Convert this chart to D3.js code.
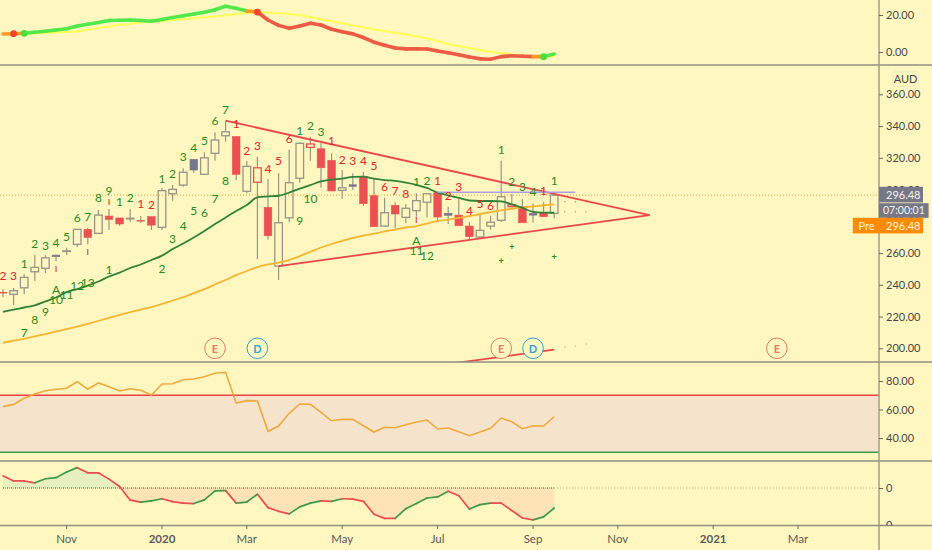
<!DOCTYPE html>
<meta charset="utf-8">
<style>
  html, body { margin: 0; padding: 0; background: #fff7bf; overflow: hidden; }
  text { font-family: Lato, "Open Sans", sans-serif; }
</style>

<!-- Load d3.js -->
<script src="https://d3js.org/d3.v7.min.js"></script>

<!-- Create a div where the graph will take place -->
<div id="my_dataviz"></div>

<script>

// weekly candles, one entry per bar
const opens = [235.3,234,238.1,248.2,250.4,258.7,261.1,265.5,274.9,272.4,283.3,282.1,281.6,280.5,282.9,276.2,297.4,302.8,319,309.6,322.8,333.9,333.3,298.9,304.6,288.8,251.8,282.2,307.1,326.6,325.7,318.4,299.5,303,308.1,296.1,277,290.1,282.5,286.7,292,298,285,283.9,277,270.1,277,280.6,289.2,289.2,285,285.4,285];
const highs = [237.3,238,246.8,258.7,258.7,258.7,263.4,275.1,275.9,287.1,287.7,282.1,287.7,283.3,282.9,301,302.8,313.4,319.2,323.5,336.1,343.4,333.7,318,320.7,306.6,310.2,325.3,329.9,333.3,329.1,322.8,312.3,310.2,311.2,307.3,294.8,292,290.7,297.6,297.6,298,289.2,294,279.4,283.9,283.5,318.2,297.2,294,291.3,292,297.6];
const lows = [232.3,227.2,234,242.4,247.4,255,258.7,263.8,265.5,272.4,274.5,277.2,279.7,278.9,274.5,274.5,293,301.8,310.6,309.6,318.2,330.1,306,297.6,256.2,268.6,243,279.4,304.3,318.2,301.1,299.1,294,299.7,289.8,276.6,276.6,275.6,278.7,282.9,282.5,279.4,278.3,277.2,268.2,269.3,274.9,279.7,288.8,279.1,279.1,282.5,281.9];
const closes = [234.8,236.3,244.7,251,257,257.7,261.4,274.9,269.9,283.9,281.2,278.3,281.9,280.2,277.6,299.3,300.1,310.9,312.3,320,331.2,336.4,309.6,314.6,313.7,270.9,279.1,304.3,329.1,328.7,313.7,299.1,301.1,302,291.1,276.6,285.4,284.6,288.2,293,297.4,282.7,283.8,277.2,270.3,274.3,279.4,295.5,290.4,279.1,283.9,282.9,296.48];

// moving averages on the price pane
const maFast = [223,224.4,225.7,227.1,229.5,232,235.4,237.3,239.5,242.1,245.2,247.7,250.6,252.8,255.6,258.4,262.5,266,269.8,273.9,278.3,282.4,286.5,290.2,295.1,295.7,296.1,298.1,300.6,302.8,305.1,306.2,306.9,308,308.1,306.9,306,305.4,304.4,303,301,298,296.4,294.7,293.1,292.8,292.8,292.5,290.6,288.4,286,285.5,285.4];
const maSlow = [203.5,204.8,206,207.5,209,210.6,212.1,213.7,215.4,217.2,219.1,221.1,222.8,224.4,226,227.9,230.1,232.1,234.8,237.3,240.2,243,246.1,248.7,251.2,252.8,254,255.6,258.1,260.8,263.5,265.7,267.6,269.5,271,272.2,273.6,274.8,276.1,277,278.6,280.2,281.1,282.1,283.3,284.6,285.8,286.9,287.9,288.8,289.4,290.1,290.7];

// top pane
const wave = [9.7,9.9,10.1,10.7,11.2,11.9,12.6,14,15,15.9,17,17.2,17.3,17,16.6,17.6,18.6,19.6,20.5,21.5,22.8,24.7,23.6,22.2,21.6,17.3,14.4,12.8,14,15.5,14.6,12.3,10.9,9.8,7.8,5.3,3.6,2.2,1.7,1.7,1.6,0.5,-0.4,-1.5,-2.7,-3.7,-3.9,-2.5,-2,-2.3,-2.5,-2.5,-1.1];
const waveSignal = [9.5,10,9.9,10.1,10.3,10.6,10.8,11.1,12.1,13,13.8,14.6,15.1,15.9,16.3,16.8,17.3,17.7,18.3,18.8,19.2,19.8,20.5,21,21.7,21.2,21,20.6,19.9,18.9,17.7,16.6,15.5,14.4,13.3,12.2,11.4,10.4,9.5,8.5,7.3,6,4.2,3.2,2.2,1.1,0.1,-0.6,-1.4,-1.8,-2.3,-2.6,-2.4];

// rsi pane
const rsi = [62,63.6,67.9,70.9,73.2,74.2,74.9,79.5,74.2,78.6,76,73,74.6,73.5,70.2,77.9,78.1,80.9,81.4,83,85.4,86.1,64.6,66.2,66,44.7,48.4,57.3,63.9,63.6,58,52.1,53.1,53.1,48.6,44.2,47.5,47.2,49.3,51.2,52.6,46.3,47,44.4,41.6,44.2,46.8,54,51.4,46.5,48.6,48.4,54.9];

// bottom oscillator pane
const osc = [3.3,1.9,1.9,1.4,2.5,2.8,4.3,5.5,4.1,4.1,2.4,0.4,-3.3,-3.8,-3.5,-2.9,-3.7,-4.1,-4.2,-3.2,-0.8,-0.7,-4.1,-3.8,-1.7,-5.3,-6.3,-7,-5.1,-4.1,-3.5,-3.6,-2.9,-3,-3.6,-7.1,-8.2,-8.2,-5.6,-4.2,-2.7,-2.4,-0.9,-2.1,-5.7,-4.5,-4.1,-4.1,-6.1,-8.1,-8.6,-7.8,-5.4];

// count labels above and below the candles
const greenLabels = ["7","8","9","A","10","11","12","13","1","2","3","4","5","6","7","8","9","10","1","2","3","4","5","6","7","8","9","1","2","1","2","3","4","5","6","7","1","2","3","1","2","1","2","3","4","1","A","11","12"];
const greenBars = [2,3,4,5,5,6,7,8,10,15,16,17,18,19,20,21,28,29,2,3,4,5,6,7,8,9,10,11,12,15,16,17,18,19,20,21,28,29,30,39,40,47,48,49,50,52,39,39,40];
const greenPrices = [210.1,218,223,237.1,230.8,234.2,239.7,241.6,249.7,250.1,269.3,277.6,286.7,285.4,294.5,305.4,280.8,294.5,253.5,266.1,265,266.5,270.7,282.5,282.9,294.7,299.3,292.6,295.1,307.1,310.2,321.1,326.8,331,343.2,350.3,336.9,340.2,336.4,305.2,305.4,325.5,305.2,301.8,298.6,305.4,267.6,261.3,258.7];
const redLabels = ["2","3","1","2","1","2","3","4","5","6","1","2","3","4","5","6","7","8","1","2","3","4","5","6","1"];
const redBars = [0,1,13,14,22,23,24,25,26,27,31,32,33,34,35,36,37,38,41,42,43,44,45,46,51];
const redPrices = [246.1,246.1,291.3,290.7,341.7,324.9,328,313.4,318,332.3,330.6,319.2,318,318.2,315,302.2,299.7,297.8,305.4,296.1,302.2,286.7,291.3,290.2,299.7];
const markBars = [5,8,10,39];
const markPrices = [250.1,260.8,292.1,280.8];
const plusBars = [47,48,52];
const plusPrices = [255.4,264,257.9];

// drawn lines: [bar, price] pairs
const triangleTop = [[21,343.4],[61,283.9]];
const triangleBottom = [[26,251.8],[61,283.9]];
const lowerChannel = [[42,190.1],[52,199.2]];
const resistance = [[41,298.3],[54,298.3]];
const projectionDots = [[53,292.3],[54,292.3],[53,286],[54,286],[55,286]];
const channelDots = [[53,200.8],[54,201.4],[55,202.7]];

// earnings and dividend badges
const eventLabels = ["E","D","E","D","E"];
const eventBars = [20,24,47,50,73];

// axes
const timeTickBars = [6,15,23,32,41,50,58,67,75];
const timeTickLabels = ["Nov","2020","Mar","May","Jul","Sep","Nov","2021","Mar"];
const priceTicks = [360,340,320,300,280,260,240,220,200];
const topTicks = [20,0];
const rsiTicks = [80,60,40];
const oscTicks = [0,-10];
const lastPrice = 296.48;

const width = 932, height = 550, axisX = 879;
const bg = "#fff7bf", red = "#ec5050", grey = "#969689", dark = "#77778c";

const svg = d3.select("#my_dataviz")
  .append("svg")
  .attr("width", width)
  .attr("height", height)
  .style("display", "block");

// scales, bar number on x and one y scale per pane
const x = d3.scaleLinear().domain([0, 82]).range([3, 872.2]);
const topY = d3.scaleLinear().domain([0, 20]).range([52, 15]);
const priceY = d3.scaleLinear().domain([200, 360]).range([348.3, 94.3]);
const rsiY = d3.scaleLinear().domain([40, 80]).range([438, 381]);
const oscY = d3.scaleLinear().domain([-10, 0]).range([525, 488]);

// each pane gets its own clip
const defs = svg.append("defs");
[["clipTop", 0, 65], ["clipPrice", 65, 362], ["clipRsi", 362, 461], ["clipOsc", 461, 525],
 ["clipOscAxis", 461, 525.5]].forEach(d => {
  defs.append("clipPath").attr("id", d[0]).append("rect")
    .attr("x", 0).attr("y", d[1]).attr("width", width).attr("height", d[2] - d[1]);
});
defs.append("clipPath").attr("id", "oscAbove").append("rect")
  .attr("x", 0).attr("y", 461).attr("width", width).attr("height", oscY(0) - 461);
defs.append("clipPath").attr("id", "oscBelow").append("rect")
  .attr("x", 0).attr("y", oscY(0)).attr("width", width).attr("height", 525 - oscY(0));

const bars = d3.range(closes.length);

// ---- top pane ----
const topPane = svg.append("g").attr("clip-path", "url(#clipTop)");

topPane.append("path")
  .attr("d", d3.line().x(i => x(i)).y(i => topY(waveSignal[i])).curve(d3.curveMonotoneX)(bars))
  .attr("fill", "none")
  .attr("stroke", "#ffff55")
  .attr("stroke-width", 2);

const isUp = i => wave[i] > waveSignal[i];

topPane.selectAll(".waveseg")
  .data(bars.slice(0, -1))
  .join("line")
  .attr("class", "waveseg")
  .attr("x1", i => x(i)).attr("y1", i => topY(wave[i]))
  .attr("x2", i => x(i + 1)).attr("y2", i => topY(wave[i + 1]))
  .attr("stroke-width", 3.6)
  .attr("stroke-linecap", "round")
  .attr("stroke", i => isUp(i) !== isUp(i + 1) ? "#ff9a20" : (isUp(i) ? "#52e84c" : "#ee5a45"));

topPane.selectAll(".wavecross")
  .data(bars.slice(1).filter(i => isUp(i) !== isUp(i - 1)))
  .join("circle")
  .attr("class", "wavecross")
  .attr("cx", i => x(i)).attr("cy", i => topY(wave[i]))
  .attr("r", 3.4)
  .attr("fill", i => isUp(i) ? "#44e03c" : "#f0442c");

// ---- price pane ----
const pricePane = svg.append("g").attr("clip-path", "url(#clipPrice)");

// last price line
pricePane.append("line")
  .attr("x1", 0).attr("x2", axisX)
  .attr("y1", priceY(lastPrice)).attr("y2", priceY(lastPrice))
  .attr("stroke", "#f5a23c")
  .attr("stroke-dasharray", "1 2");

// candles: filled when close is under open, red when close is under the previous close
const isFilled = i => closes[i] < opens[i];
const isDown = i => i === 0 || closes[i] < closes[i - 1];
const candleColor = i => isDown(i) ? red : (isFilled(i) ? dark : grey);
const bodyTop = i => priceY(Math.max(opens[i], closes[i]));
const bodyBottom = i => priceY(Math.min(opens[i], closes[i]));

const candles = pricePane.selectAll(".candle").data(bars).join("g").attr("class", "candle");

candles.append("line")
  .attr("x1", i => x(i)).attr("x2", i => x(i))
  .attr("y1", i => priceY(highs[i])).attr("y2", i => bodyTop(i))
  .attr("stroke", grey).attr("stroke-width", 1.2);
candles.append("line")
  .attr("x1", i => x(i)).attr("x2", i => x(i))
  .attr("y1", i => bodyBottom(i)).attr("y2", i => priceY(lows[i]))
  .attr("stroke", grey).attr("stroke-width", 1.2);
candles.append("rect")
  .attr("x", i => x(i) - 3.8)
  .attr("width", 7.6)
  .attr("y", i => bodyTop(i))
  .attr("height", i => Math.max(bodyBottom(i) - bodyTop(i), 0.6))
  .attr("fill", i => isFilled(i) ? candleColor(i) : "none")
  .attr("stroke", candleColor)
  .attr("stroke-width", i => isFilled(i) ? 0.6 : 1.3);

// moving averages
const priceLine = d3.line().x((d, i) => x(i)).y(d => priceY(d)).curve(d3.curveMonotoneX);
pricePane.append("path").attr("d", priceLine(maSlow))
  .attr("fill", "none").attr("stroke", "#f6b531").attr("stroke-width", 1.8);
pricePane.append("path").attr("d", priceLine(maFast))
  .attr("fill", "none").attr("stroke", "#2f8237").attr("stroke-width", 1.8);

// drawn lines
const drawnLine = d3.line().x(d => x(d[0])).y(d => priceY(d[1]));
[triangleTop, triangleBottom, lowerChannel].forEach(d => {
  pricePane.append("path").attr("d", drawnLine(d))
    .attr("fill", "none").attr("stroke", "#e8484c").attr("stroke-width", 1.8);
});
pricePane.append("path").attr("d", drawnLine(resistance))
  .attr("fill", "none").attr("stroke", "#a79fe0").attr("stroke-width", 1.5);

pricePane.selectAll(".projdot").data(projectionDots).join("circle")
  .attr("class", "projdot")
  .attr("cx", d => x(d[0])).attr("cy", d => priceY(d[1])).attr("r", 0.7).attr("fill", "#9a9a88");
pricePane.selectAll(".chandot").data(channelDots).join("circle")
  .attr("class", "chandot")
  .attr("cx", d => x(d[0])).attr("cy", d => priceY(d[1])).attr("r", 0.7).attr("fill", "#e09a88");

// count labels
pricePane.selectAll(".green").data(greenLabels).join("text")
  .attr("class", "green")
  .attr("x", (d, i) => x(greenBars[i])).attr("y", (d, i) => priceY(greenPrices[i]))
  .attr("text-anchor", "middle").attr("dominant-baseline", "central")
  .attr("font-size", 12).attr("fill", "#1f8a24")
  .text(d => d);
pricePane.selectAll(".red").data(redLabels).join("text")
  .attr("class", "red")
  .attr("x", (d, i) => x(redBars[i])).attr("y", (d, i) => priceY(redPrices[i]))
  .attr("text-anchor", "middle").attr("dominant-baseline", "central")
  .attr("font-size", 12).attr("fill", "#e3242b")
  .text(d => d);
pricePane.selectAll(".mark").data(markBars).join("text")
  .attr("class", "mark")
  .attr("x", d => x(d)).attr("y", (d, i) => priceY(markPrices[i]))
  .attr("text-anchor", "middle").attr("dominant-baseline", "central")
  .attr("font-size", 7).attr("font-weight", "bold").attr("fill", "#e3242b")
  .text("I");
pricePane.selectAll(".plus").data(plusBars).join("text")
  .attr("class", "plus")
  .attr("x", d => x(d)).attr("y", (d, i) => priceY(plusPrices[i]))
  .attr("text-anchor", "middle").attr("dominant-baseline", "central")
  .attr("font-size", 9).attr("font-weight", "bold").attr("fill", "#1f8a24")
  .text("+");

// E and D badges
const badges = pricePane.selectAll(".badge").data(eventLabels).join("g").attr("class", "badge");
const badgeColor = d => d === "E" ? "#e8776c" : "#35a0da";
badges.append("circle")
  .attr("cx", (d, i) => x(eventBars[i])).attr("cy", priceY(200))
  .attr("r", 10.3)
  .attr("fill", bg)
  .attr("stroke", badgeColor)
  .attr("stroke-width", 1);
badges.append("text")
  .attr("x", (d, i) => x(eventBars[i])).attr("y", priceY(200))
  .attr("text-anchor", "middle").attr("dominant-baseline", "central")
  .attr("font-size", 11).attr("font-weight", "bold")
  .attr("fill", badgeColor)
  .text(d => d);

// ---- rsi pane ----
const rsiPane = svg.append("g").attr("clip-path", "url(#clipRsi)");

rsiPane.append("rect")
  .attr("x", 0).attr("width", axisX)
  .attr("y", rsiY(70)).attr("height", rsiY(30) - rsiY(70))
  .attr("fill", "#f5e3cc");
rsiPane.append("line")
  .attr("x1", 0).attr("x2", axisX).attr("y1", rsiY(70)).attr("y2", rsiY(70))
  .attr("stroke", "#ee3f44").attr("stroke-width", 1.5);
rsiPane.append("line")
  .attr("x1", 0).attr("x2", axisX).attr("y1", rsiY(30)).attr("y2", rsiY(30))
  .attr("stroke", "#3d9a4a").attr("stroke-width", 1.5);
rsiPane.append("path")
  .attr("d", d3.line().x((d, i) => x(i)).y(d => rsiY(d))(rsi))
  .attr("fill", "none").attr("stroke", "#f0a93c").attr("stroke-width", 1.6);

// ---- oscillator pane ----
const oscPane = svg.append("g").attr("clip-path", "url(#clipOsc)");
const oscArea = d3.area().x((d, i) => x(i)).y0(oscY(0)).y1(d => oscY(d));

oscPane.append("path").attr("d", oscArea(osc))
  .attr("clip-path", "url(#oscAbove)").attr("fill", "#e6f0bf");
oscPane.append("path").attr("d", oscArea(osc))
  .attr("clip-path", "url(#oscBelow)").attr("fill", "#fde3b6");

// zero line, two dotted colours up to the last bar then plain dots
oscPane.append("line")
  .attr("x1", x(0)).attr("x2", x(52)).attr("y1", oscY(0)).attr("y2", oscY(0))
  .attr("stroke", "#3d9a4a").attr("stroke-dasharray", "1 1");
oscPane.append("line")
  .attr("x1", x(0)).attr("x2", x(52)).attr("y1", oscY(0)).attr("y2", oscY(0))
  .attr("stroke", "#e8484c").attr("stroke-dasharray", "1 3");
oscPane.append("line")
  .attr("x1", x(52)).attr("x2", axisX).attr("y1", oscY(0)).attr("y2", oscY(0))
  .attr("stroke", "#a8a584").attr("stroke-dasharray", "1 2");

oscPane.selectAll(".oscseg")
  .data(bars.slice(0, -1))
  .join("line")
  .attr("class", "oscseg")
  .attr("x1", i => x(i)).attr("y1", i => oscY(osc[i]))
  .attr("x2", i => x(i + 1)).attr("y2", i => oscY(osc[i + 1]))
  .attr("stroke-width", 1.7)
  .attr("stroke-linecap", "round")
  .attr("stroke", i => osc[i + 1] > osc[i] ? "#3d9a4a" : "#ec4b50");

// ---- pane borders and axes ----
[65, 362, 461, 525.5].forEach(y => {
  svg.append("line")
    .attr("x1", 0).attr("x2", width).attr("y1", y).attr("y2", y)
    .attr("stroke", "#8f8f82").attr("stroke-width", 1.4);
});
svg.append("line")
  .attr("x1", axisX).attr("x2", axisX).attr("y1", 0).attr("y2", height)
  .attr("stroke", "#a19e90").attr("stroke-width", 1.5);

// right side ticks for every pane
function rightAxis(parent, scale, values, format) {
  return parent.append("g")
    .attr("transform", `translate(${axisX},0)`)
    .call(d3.axisRight(scale).tickValues(values).tickFormat(format).tickSize(4).tickSizeOuter(0))
    .call(g => g.select(".domain").remove())
    .call(g => g.selectAll("line").attr("stroke", "#6a6a60"))
    .call(g => g.selectAll("text")
      .attr("x", 7)
      .attr("font-size", 11)
      .attr("font-family", "Lato, sans-serif")
      .attr("fill", "#47474a"));
}
const fmt2 = d3.format(".2f");
rightAxis(svg, topY, topTicks, fmt2);
rightAxis(svg, priceY, priceTicks, fmt2);
rightAxis(svg, rsiY, rsiTicks, fmt2);
// the lower tick sits on the border, so only the top of its label shows
rightAxis(svg.append("g").attr("clip-path", "url(#clipOscAxis)"), oscY, oscTicks, () => "0");

// time axis
svg.selectAll(".timetick").data(timeTickBars).join("line")
  .attr("class", "timetick")
  .attr("x1", d => x(d)).attr("x2", d => x(d))
  .attr("y1", 525.5).attr("y2", 529)
  .attr("stroke", "#6a6a60");
svg.selectAll(".timelabel").data(timeTickLabels).join("text")
  .attr("class", "timelabel")
  .attr("x", (d, i) => x(timeTickBars[i]))
  .attr("y", 543)
  .attr("text-anchor", "middle")
  .attr("font-size", 11.5)
  .attr("font-weight", d => d.length === 4 ? "bold" : "normal")
  .attr("fill", "#5a5a5c")
  .text(d => d);

// currency box
svg.append("rect")
  .attr("x", 892.8).attr("y", 71.2).attr("width", 25.4).attr("height", 15.4).attr("rx", 2.5)
  .attr("fill", bg).attr("stroke", "#eee9c4");
svg.append("text")
  .attr("x", 905.5).attr("y", 83).attr("text-anchor", "middle")
  .attr("font-size", 11).attr("fill", "#47474a").text("AUD");

// last price labels
svg.append("rect").attr("x", 879).attr("y", 186.8).attr("width", 44).attr("height", 15.6).attr("fill", "#767888");
svg.append("text").attr("x", 886).attr("y", 198.6).attr("font-size", 11).attr("fill", "#f4f4ee").text(lastPrice.toFixed(2));
svg.append("rect").attr("x", 879).attr("y", 203.2).attr("width", 49.6).attr("height", 14.6).attr("fill", "#767888");
svg.append("text").attr("x", 883).attr("y", 214.4).attr("font-size", 10.5).attr("fill", "#f4f4ee").text("07:00:01");
svg.append("rect").attr("x", 852.8).attr("y", 217.8).attr("width", 70.2).attr("height", 15.6).attr("fill", "#ff8c00");
svg.append("text").attr("x", 866.5).attr("y", 229.6).attr("text-anchor", "middle").attr("font-size", 11).attr("fill", "#fff4e0").text("Pre");
svg.append("text").attr("x", 886).attr("y", 229.6).attr("font-size", 11).attr("fill", "#fff4e0").text(lastPrice.toFixed(2));

</script>
